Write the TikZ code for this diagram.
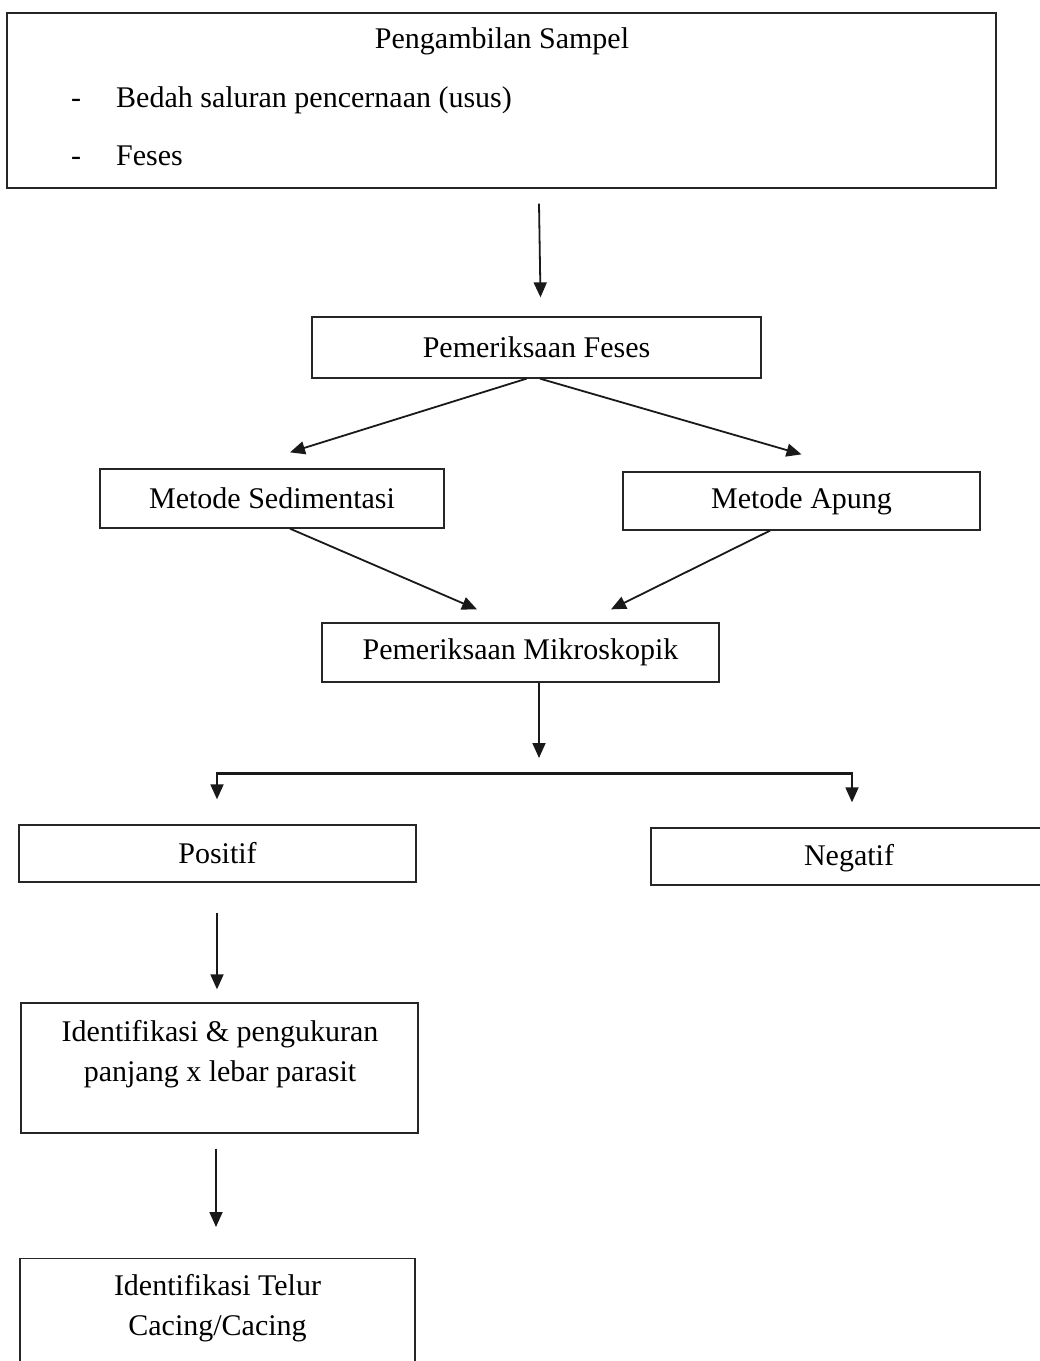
\documentclass[tikz,border=0pt]{standalone}
\usepackage{fontspec}
\setmainfont{Liberation Serif}
\usetikzlibrary{arrows.meta}
\begin{document}
\begin{tikzpicture}[x=1pt,y=-1pt,
  box/.style={draw=black!85, line width=1.3pt, rectangle, inner sep=0pt},
  txt/.style={inner sep=0pt, font=\fontsize{30}{40}\selectfont, align=center},
  arr/.style={draw=black!90, line width=1.8pt, -{Triangle[length=15pt,width=13pt]}},
  barline/.style={draw=black!90, line width=3pt}]
\useasboundingbox (0,0) rectangle (1040,1361);
% top box
\node[box, minimum width=989, minimum height=175] (top) at (501.5,100.5) {};
\node[txt, anchor=base] (toptitle) at (502,48) {Pengambilan Sampel};
\node[txt, anchor=base] (dash1) at (76,107) {-};
\node[txt, anchor=base west] (item1) at (116,107) {Bedah saluran pencernaan (usus)};
\node[txt, anchor=base] (dash2) at (76,165) {-};
\node[txt, anchor=base west] (item2) at (116,165) {Feses};
% boxes
\node[box, txt, minimum width=449, minimum height=61] (feses) at (536.5,347.5) {Pemeriksaan Feses};
\node[box, txt, minimum width=344, minimum height=59] (sedi) at (272,498.5) {Metode Sedimentasi};
\node[box, txt, minimum width=357, minimum height=58] (apung) at (801.5,501) {Metode Apung};
\node[box, txt, minimum width=397, minimum height=59] (mikro) at (520.5,652.5) {Pemeriksaan Mikroskopik};
\node[box, txt, minimum width=397, minimum height=57] (pos) at (217.5,853.5) {Positif};
\node[box, minimum width=398, minimum height=57] (neg) at (850,856.5) {};
\node[txt] (negtxt) at (849,858) {Negatif};
\node[box, minimum width=397, minimum height=130] (ident) at (219.5,1068) {};
\node[txt] (identtxt) at (220,1054) {Identifikasi \& pengukuran\\panjang x lebar parasit};
\node[box, minimum width=395, minimum height=140, anchor=north] (telur) at (217.5,1258) {};
\node[txt] (telurtxt) at (217.5,1308) {Identifikasi Telur\\Cacing/Cacing};
% connectors
\draw[arr] ([xshift=37.5,yshift=-15]top.south) -- ([xshift=4,yshift=19]feses.north);
\draw[arr] ([xshift=-10]feses.south) -- ([xshift=18,yshift=16]sedi.north);
\draw[arr] ([xshift=3.5]feses.south) -- ([yshift=17]apung.north);
\draw[arr] ([xshift=18]sedi.south) -- ([xshift=-43.5,yshift=13]mikro.north);
\draw[arr] ([xshift=-31.5]apung.south) -- ([xshift=90.5,yshift=13]mikro.north);
\coordinate (split) at (539,758);
\draw[arr] ([xshift=18.5]mikro.south) -- (split);
\coordinate (barL) at (217,773);
\coordinate (barR) at (852,773);
\draw[barline] ([xshift=-1]barL) -- ([xshift=1]barR);
\draw[arr] (barL) -- ([xshift=-0.5,yshift=25]pos.north);
\draw[arr] (barR) -- ([xshift=2,yshift=25]neg.north);
\draw[arr] ([xshift=-0.5,yshift=-30]pos.south) -- ([xshift=-2.5,yshift=13]ident.north);
\draw[arr] ([xshift=-3.5,yshift=-15]ident.south) -- ([xshift=-1.5,yshift=31]telur.north);
\end{tikzpicture}
\end{document}
